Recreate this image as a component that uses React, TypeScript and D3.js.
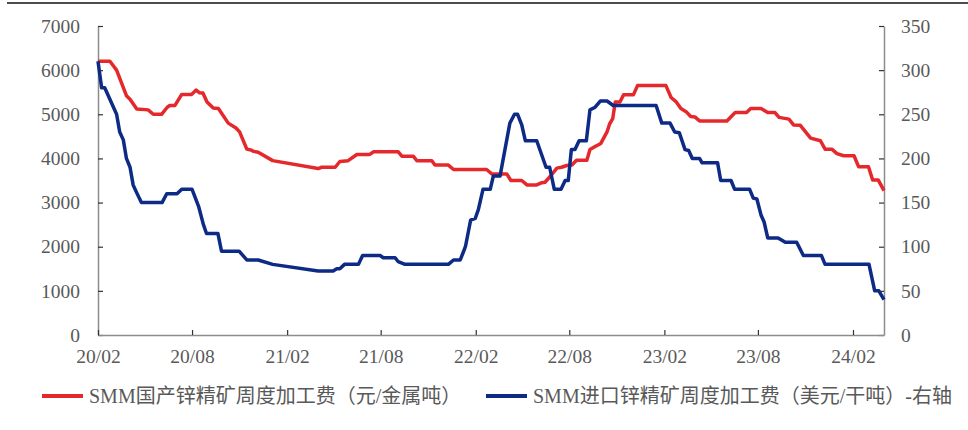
import React, { useEffect, useRef } from "react";
import * as d3 from "d3";

// SMM国产锌精矿周度加工费（元/金属吨）— 左轴
const domesticDates = [
  "2020-02-01", "2020-02-24", "2020-03-08", "2020-03-27", "2020-04-03", "2020-04-16",
  "2020-05-08", "2020-05-18", "2020-06-03", "2020-06-14", "2020-06-19", "2020-06-29",
  "2020-07-12", "2020-07-31", "2020-08-09", "2020-08-15", "2020-08-22", "2020-08-30",
  "2020-09-11", "2020-09-21", "2020-10-10", "2020-10-25", "2020-11-01", "2020-11-15",
  "2020-11-23", "2020-11-28", "2020-12-07", "2021-01-04", "2021-04-02", "2021-04-09",
  "2021-05-05", "2021-05-14", "2021-05-30", "2021-06-16", "2021-07-11", "2021-07-18",
  "2021-09-04", "2021-09-11", "2021-10-03", "2021-10-10", "2021-11-08", "2021-11-14",
  "2021-12-10", "2021-12-20", "2022-02-22", "2022-03-04", "2022-04-02", "2022-04-10",
  "2022-05-01", "2022-05-11", "2022-05-30", "2022-06-09", "2022-06-15", "2022-06-25",
  "2022-07-08", "2022-07-17", "2022-07-27", "2022-08-06", "2022-08-15", "2022-09-04",
  "2022-09-10", "2022-09-20", "2022-10-01", "2022-10-06", "2022-10-13", "2022-10-18",
  "2022-10-24", "2022-10-29", "2022-11-07", "2022-11-14", "2022-12-03", "2022-12-11",
  "2023-02-04", "2023-02-14", "2023-02-24", "2023-03-05", "2023-03-15", "2023-03-24",
  "2023-04-01", "2023-04-10", "2023-06-02", "2023-06-18", "2023-07-10", "2023-07-18",
  "2023-08-07", "2023-08-20", "2023-09-03", "2023-09-11", "2023-09-30", "2023-10-09",
  "2023-10-22", "2023-11-11", "2023-11-30", "2023-12-09", "2023-12-22", "2024-01-01",
  "2024-01-14", "2024-02-03", "2024-02-12", "2024-03-02", "2024-03-10", "2024-03-21",
  "2024-04-01",
];
const domesticValues = [
  6200, 6200, 6000, 5420, 5340, 5120,
  5100, 5000, 5000, 5160, 5200, 5200,
  5450, 5450, 5550, 5490, 5480, 5280,
  5140, 5130, 4800, 4690, 4600, 4210,
  4190, 4160, 4140, 3950, 3770, 3800,
  3800, 3930, 3950, 4090, 4090, 4150,
  4150, 4050, 4050, 3950, 3950, 3850,
  3850, 3750, 3750, 3650, 3650, 3500,
  3500, 3400, 3400, 3450, 3460, 3590,
  3780, 3800, 3840, 3850, 3960, 3960,
  4200, 4270, 4340, 4450, 4600, 4780,
  4900, 5280, 5280, 5440, 5440, 5650,
  5650, 5380, 5280, 5130, 5060, 4950,
  4940, 4850, 4850, 5040, 5040, 5130,
  5130, 5040, 5040, 4930, 4890, 4760,
  4750, 4460, 4400, 4210, 4210, 4110,
  4060, 4060, 3810, 3810, 3510, 3510,
  3270,
];

// SMM进口锌精矿周度加工费（美元/干吨）— 右轴
const importDates = [
  "2020-02-01", "2020-02-08", "2020-02-14", "2020-03-08", "2020-03-14", "2020-03-21",
  "2020-03-27", "2020-04-03", "2020-04-09", "2020-04-16", "2020-04-25", "2020-06-04",
  "2020-06-13", "2020-07-03", "2020-07-12", "2020-08-01", "2020-08-14", "2020-08-23",
  "2020-08-29", "2020-09-20", "2020-09-27", "2020-10-31", "2020-11-15", "2020-12-07",
  "2021-01-04", "2021-04-02", "2021-05-01", "2021-05-08", "2021-05-14", "2021-05-23",
  "2021-06-19", "2021-06-27", "2021-07-31", "2021-08-06", "2021-08-29", "2021-09-04",
  "2021-09-17", "2021-12-10", "2021-12-20", "2022-01-02", "2022-01-08", "2022-01-12",
  "2022-01-22", "2022-01-31", "2022-02-06", "2022-02-15", "2022-03-01", "2022-03-07",
  "2022-03-20", "2022-04-08", "2022-04-17", "2022-04-23", "2022-05-01", "2022-05-08",
  "2022-05-30", "2022-06-17", "2022-06-24", "2022-07-03", "2022-07-16", "2022-07-24",
  "2022-07-30", "2022-08-05", "2022-08-12", "2022-08-20", "2022-09-03", "2022-09-10",
  "2022-09-20", "2022-09-30", "2022-10-13", "2022-10-25", "2023-01-16", "2023-01-27",
  "2023-02-12", "2023-02-21", "2023-03-02", "2023-03-13", "2023-03-20", "2023-03-27",
  "2023-04-10", "2023-04-15", "2023-05-15", "2023-05-21", "2023-06-10", "2023-06-17",
  "2023-07-16", "2023-07-23", "2023-07-30", "2023-08-07", "2023-08-13", "2023-08-20",
  "2023-09-09", "2023-09-23", "2023-10-15", "2023-10-28", "2023-12-02", "2023-12-09",
  "2024-03-03", "2024-03-14", "2024-03-22", "2024-04-01",
];
const importValues = [
  310, 280, 280, 250, 230, 221,
  200, 190, 170, 161, 150, 150,
  160, 160, 165, 165, 145, 125,
  115, 115, 95, 95, 85, 85,
  80, 72.5, 72.5, 75, 75, 80,
  80, 90, 90, 87.5, 87.5, 83,
  80, 80, 85, 85, 94, 100,
  130, 132, 142, 165, 165, 180,
  180, 240, 250, 250, 238, 220,
  220, 190, 190, 165, 165, 175,
  175, 210, 210, 220, 220, 255,
  258, 265, 265, 260, 260, 240,
  240, 230, 229, 210, 209, 200,
  200, 195, 195, 175, 175, 165,
  165, 155, 154, 136, 128, 110,
  110, 105, 105, 90, 90, 80,
  80, 50, 50, 40,
];

const xTickDates = [
  "2020-02-01", "2020-08-01", "2021-02-01", "2021-08-01", "2022-02-01",
  "2022-08-01", "2023-02-01", "2023-08-01", "2024-02-01",
];
const leftTicks = [0, 1000, 2000, 3000, 4000, 5000, 6000, 7000];
const rightTicks = [0, 50, 100, 150, 200, 250, 300, 350];

const legendLabels = [
  "SMM国产锌精矿周度加工费（元/金属吨）",
  "SMM进口锌精矿周度加工费（美元/干吨）-右轴",
];

const RED = "#e5282b";
const BLUE = "#0d2a85";
const FONT = "'Liberation Serif', 'Times New Roman', 'Noto Sans CJK SC', serif";

const App = () => {
  const svgRef = useRef<SVGSVGElement>(null);

  useEffect(() => {
    const width = 968;
    const height = 430;
    const left = 98, right = 884, top = 26, bottom = 335;

    const svg = d3.select(svgRef.current).attr("width", width).attr("height", height);
    svg.selectAll("*").remove();

    const parse = d3.timeParse("%Y-%m-%d");

    const xScale = d3.scaleTime()
      .domain([parse("2020-02-01")!, parse("2024-04-01")!])
      .range([left, right]);
    const yLeft = d3.scaleLinear().domain([0, 7000]).range([bottom, top]);
    const yRight = d3.scaleLinear().domain([0, 350]).range([bottom, top]);

    // 顶部横线
    svg.append("line")
      .attr("x1", 7).attr("x2", width)
      .attr("y1", 3).attr("y2", 3)
      .attr("stroke", "#111")
      .attr("stroke-width", 1.5);

    const styleAxis = (g: any) => {
      g.select(".domain").attr("stroke", "#8c8c8c").attr("stroke-width", 1.5);
      g.selectAll(".tick line").attr("stroke", "#333").attr("stroke-width", 1.2);
      g.selectAll(".tick text")
        .attr("fill", "#595959")
        .style("font-family", FONT)
        .style("font-size", "19.5px");
    };

    // 左轴
    svg.append("g")
      .attr("transform", `translate(${left},0)`)
      .call(d3.axisLeft(yLeft).tickValues(leftTicks).tickFormat(d3.format("d")).tickSizeInner(-5).tickSizeOuter(0).tickPadding(18))
      .call(styleAxis);

    // 右轴
    svg.append("g")
      .attr("transform", `translate(${right},0)`)
      .call(d3.axisRight(yRight).tickValues(rightTicks).tickFormat(d3.format("d")).tickSizeInner(-5).tickSizeOuter(0).tickPadding(17))
      .call(styleAxis);

    // X 轴
    svg.append("g")
      .attr("transform", `translate(0,${bottom})`)
      .call(
        d3.axisBottom(xScale)
          .tickValues(xTickDates.map(d => parse(d)!))
          .tickFormat(d3.timeFormat("%y/%m") as any)
          .tickSizeInner(-5)
          .tickSizeOuter(0)
          .tickPadding(14)
      )
      .call(styleAxis);

    // 折线
    const domestic = domesticDates.map((d, i) => ({ date: parse(d)!, value: domesticValues[i] }));
    const imported = importDates.map((d, i) => ({ date: parse(d)!, value: importValues[i] }));

    svg.append("path")
      .datum(domestic)
      .attr("fill", "none")
      .attr("stroke", RED)
      .attr("stroke-width", 3.5)
      .attr("stroke-linejoin", "round")
      .attr("d", d3.line<any>().x(d => xScale(d.date)).y(d => yLeft(d.value)));

    svg.append("path")
      .datum(imported)
      .attr("fill", "none")
      .attr("stroke", BLUE)
      .attr("stroke-width", 3.5)
      .attr("stroke-linejoin", "round")
      .attr("d", d3.line<any>().x(d => xScale(d.date)).y(d => yRight(d.value)));

    // 图例
    const legendItems = [
      { label: legendLabels[0], color: RED, x: 42 },
      { label: legendLabels[1], color: BLUE, x: 486 },
    ];
    const legend = svg.append("g").attr("transform", "translate(0,396)");
    legendItems.forEach(item => {
      legend.append("line")
        .attr("x1", item.x).attr("x2", item.x + 41)
        .attr("y1", 0).attr("y2", 0)
        .attr("stroke", item.color)
        .attr("stroke-width", 4);
      legend.append("text")
        .attr("x", item.x + 47)
        .attr("y", 0)
        .attr("dy", "0.36em")
        .attr("fill", "#595959")
        .style("font-family", FONT)
        .style("font-size", "20px")
        .text(item.label);
    });
  }, []);

  return (
    <svg
      ref={svgRef}
      style={{ position: "absolute", left: 0, top: 0, background: "#fff" }}
    />
  );
};

export default App;
